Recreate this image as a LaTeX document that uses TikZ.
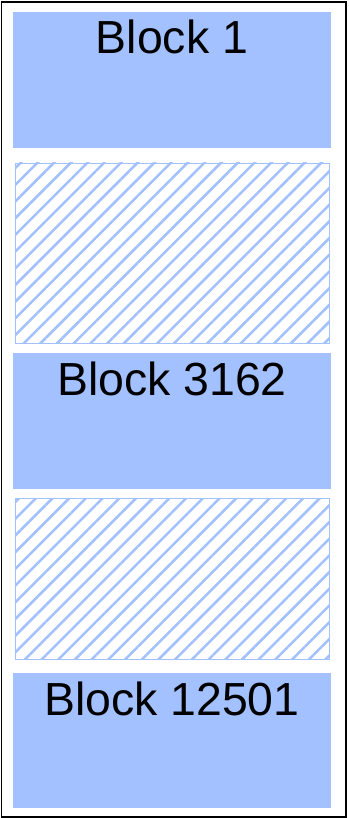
\documentclass[tikz,border=0pt]{standalone}
\usepackage{fontspec}
\setmainfont{Liberation Sans}
\usepackage{xcolor}
\definecolor{blockblue}{HTML}{A3C1FE}
\usepackage{tikz}
\usetikzlibrary{patterns.meta}

\begin{document}
\begin{tikzpicture}[x=0.25mm, y=-0.25mm,
    blockfill/.style={fill=blockblue},
    gapbox/.style={draw=blockblue, line width=0.7pt,
      pattern={Lines[angle=45, distance=8.4pt, line width=1.8pt]}, pattern color=blockblue},
    blocklabel/.style={anchor=base, font=\fontsize{33}{36}\selectfont, inner sep=0pt}]
  \useasboundingbox (0,0) rectangle (348,818);
  \draw[line width=1.4pt] (1.5,2) rectangle (346,817);
  \foreach \n/\t/\b in {1/12/148, 3162/353/489, 12501/673/808} {
    \fill[blockfill] (13,\t) rectangle (331,\b);
    \node[blocklabel] (blk\n) at (172,\t+42) {Block \n};
  }
  \foreach \t/\b in {163/343, 498/659}
    \draw[gapbox] (15,\t) rectangle (329,\b);
\end{tikzpicture}
\end{document}
